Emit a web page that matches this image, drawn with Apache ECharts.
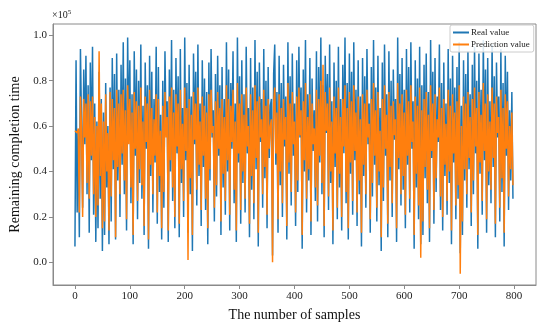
<!DOCTYPE html>
<html>
<head>
<meta charset="utf-8">
<script src="https://cdn.jsdelivr.net/npm/echarts@6/dist/echarts.min.js"></script>
<style>
html,body{margin:0;padding:0;background:#fff;}
#chart{width:550px;height:327px;}
</style>
</head>
<body>
<div id="chart"></div>
<script>
// Values in thousands (x10^3); the chart shows them in units of 10^5.
const SAMPLE_STEP = 2;
const X_TICKS = [0, 100, 200, 300, 400, 500, 600, 700, 800];
const Y_TICKS = [0, 0.2, 0.4, 0.6, 0.8, 1.0];
const SERIES_NAMES = ['Real value', 'Prediction value'];

const REAL_VALUE_K = [
  7,89,22,58,11,94,60,24,85,52,91,30,78,13,88,45,95,21,70,9,
  62,15,84,28,72,5,66,12,79,33,60,8,77,18,90,41,83,10,92,36,
  76,20,87,43,97,30,81,14,99,55,89,26,74,8,93,47,85,19,80,35,
  96,28,69,12,88,50,78,6,91,38,84,22,72,44,95,17,86,31,65,10,
  80,24,93,57,71,9,85,40,98,27,76,15,90,48,82,11,94,35,68,20,
  99,45,79,13,87,30,73,5,92,52,84,25,96,38,70,16,89,42,81,23,
  75,8,88,36,94,55,67,18,83,29,91,47,78,12,86,33,72,21,97,40,
  85,14,79,50,93,26,70,9,99,44,82,17,89,35,74,22,95,48,68,11,
  90,32,77,19,98,41,84,7,88,53,72,24,94,37,80,15,86,46,69,72,
  3,83,96,43,75,13,91,34,79,20,87,51,73,10,97,39,82,25,92,47,
  70,16,89,31,95,55,77,6,85,40,98,22,74,36,90,12,81,49,67,27,
  93,18,86,44,99,30,78,11,91,57,83,23,96,35,71,8,88,42,80,19,
  95,33,72,14,87,48,99,26,79,10,92,39,84,21,97,45,76,16,89,30,
  73,7,90,38,82,24,94,52,70,13,86,29,98,43,77,18,91,34,68,5,
  88,27,96,47,74,11,93,36,80,20,85,54,72,9,99,41,83,25,90,32,
  76,15,94,43,86,22,97,50,71,6,89,33,81,19,95,8,78,12,87,37,
  92,26,75,9,98,46,84,17,90,31,73,53,96,23,79,14,88,38,70,21,
  94,35,81,8,91,44,77,19,86,28,97,4,69,12,89,36,83,24,93,41,
  74,16,87,30,95,48,80,6,92,39,76,21,98,45,85,13,90,34,71,26,
  96,42,82,11,88,55,73,18,94,31,79,7,91,47,84,23,67,36,75,28
];

const PREDICTION_VALUE_K = [
  58,58,57,59,22,73,58,20,72,55,70,35,74,28,71,47,73,30,64,20,
  60,25,93,38,70,15,62,18,74,40,57,14,75,29,72,45,68,11,76,42,
  70,30,74,48,76,36,67,19,78,52,72,33,66,12,75,50,71,27,69,41,
  77,34,62,16,73,53,70,10,76,43,68,30,63,47,74,22,72,38,58,15,
  69,31,75,55,64,14,73,45,77,33,66,20,74,51,70,17,76,41,61,27,
  77,49,68,1,72,37,65,12,75,54,70,32,77,43,62,23,73,47,69,28,
  66,15,74,41,76,57,60,24,71,34,75,50,68,18,72,39,64,27,78,45,
  72,21,69,53,76,32,62,14,79,48,70,23,74,40,65,28,77,51,60,17,
  74,38,67,26,78,46,71,13,73,55,63,30,76,42,69,21,72,50,60,63,
  0,70,77,48,66,19,74,40,68,26,72,54,64,16,79,44,70,31,75,52,
  62,22,73,36,77,56,67,12,71,45,79,28,64,41,74,18,70,52,59,33,
  76,25,72,47,80,35,87,16,75,58,70,29,77,40,62,14,73,48,68,24,
  77,39,64,20,72,51,78,31,68,15,75,44,71,27,78,49,66,22,73,36,
  63,13,74,43,70,30,76,55,61,19,72,35,79,47,67,24,75,40,58,11,
  72,33,78,50,65,17,75,42,69,26,71,56,63,15,79,46,70,30,74,38,
  66,21,76,47,71,28,78,53,62,12,73,39,69,25,77,2,67,18,72,42,
  75,32,65,15,78,49,70,23,74,37,63,55,77,29,68,20,72,43,61,27,
  76,40,69,14,74,48,66,25,71,34,78,-5,60,18,73,41,70,30,75,46,
  64,22,72,36,77,51,68,12,75,44,65,27,79,49,70,19,74,40,62,32,
  77,46,70,17,73,57,64,24,76,37,68,13,74,50,71,29,60,41,66,34
];

function toPoints(arr) {
  return arr.map(function (v, i) { return [i * SAMPLE_STEP, v / 100]; });
}

const FONT = '"Liberation Serif", "Times New Roman", serif';
const AXIS_GRAY = '#8a8a8a';

const chart = echarts.init(document.getElementById('chart'), null, {renderer: 'canvas'});
chart.setOption({
  animation: false,
  backgroundColor: '#ffffff',
  grid: {left: 50, right: 14, top: 24, bottom: 37, show: true, borderColor: AXIS_GRAY, borderWidth: 1},
  legend: {
    left: 450, top: 25, orient: 'vertical',
    data: SERIES_NAMES,
    icon: 'rect', itemWidth: 16, itemHeight: 2, itemGap: 3,
    padding: [3, 4, 3, 3],
    borderColor: '#cccccc', borderWidth: 1, borderRadius: 2,
    backgroundColor: 'rgba(255,255,255,0.85)',
    textStyle: {fontFamily: FONT, fontSize: 9, color: '#222', padding: [0, 0, 0, -3]}
  },
  xAxis: {
    type: 'value', min: -40, max: 840,
    name: 'The number of samples', nameLocation: 'middle', nameGap: 23,
    nameTextStyle: {fontFamily: FONT, fontSize: 14, color: '#111'},
    axisLine: {show: true, onZero: false, lineStyle: {color: AXIS_GRAY}},
    axisTick: {show: true, length: 4, lineStyle: {color: AXIS_GRAY}, customValues: X_TICKS},
    axisLabel: {fontFamily: FONT, fontSize: 11, color: '#222', margin: 6, customValues: X_TICKS},
    splitLine: {show: false}
  },
  yAxis: {
    type: 'value', min: -0.1, max: 1.05,
    name: 'Remaining completion time', nameLocation: 'middle', nameGap: 31,
    nameTextStyle: {fontFamily: FONT, fontSize: 14, color: '#111'},
    axisLine: {show: true, onZero: false, lineStyle: {color: AXIS_GRAY}},
    axisTick: {show: true, length: 4, lineStyle: {color: AXIS_GRAY}, customValues: Y_TICKS},
    axisLabel: {fontFamily: FONT, fontSize: 11, color: '#222', margin: 6, customValues: Y_TICKS,
      formatter: function (v) { return v.toFixed(1); }},
    splitLine: {show: false}
  },
  graphic: [{
    type: 'text', left: 52, top: 9,
    style: {
      text: '{a|×10}{b|5}',
      rich: {
        a: {fontFamily: FONT, fontSize: 10, fill: '#222'},
        b: {fontFamily: FONT, fontSize: 7, fill: '#222', verticalAlign: 'top', padding: [0, 0, 5, 0]}
      }
    }
  }],
  series: [
    {
      name: SERIES_NAMES[0], type: 'line', data: toPoints(REAL_VALUE_K),
      showSymbol: false, symbol: 'none', color: '#1f77b4',
      lineStyle: {width: 1.5, color: '#1f77b4'}, z: 2
    },
    {
      name: SERIES_NAMES[1], type: 'line', data: toPoints(PREDICTION_VALUE_K),
      showSymbol: false, symbol: 'none', color: '#ff7f0e',
      lineStyle: {width: 1.5, color: '#ff7f0e'}, z: 3
    }
  ]
});
</script>
</body>
</html>
